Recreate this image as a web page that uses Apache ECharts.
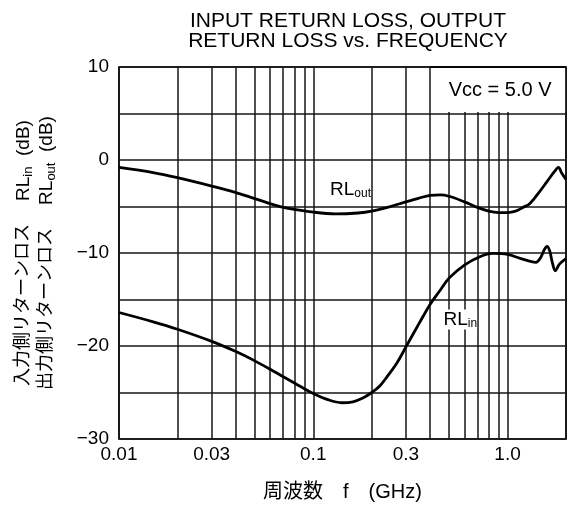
<!DOCTYPE html>
<html>
<head>
<meta charset="utf-8">
<script src="https://cdn.jsdelivr.net/npm/echarts@6/dist/echarts.min.js"></script>
<style>
html,body{margin:0;padding:0;background:#fff;}
#c{width:574px;height:510px;}
</style>
</head>
<body>
<div id="c"></div>
<script>
// ---- data ----
var freqOut = [0.01,0.015,0.02,0.03,0.04,0.05,0.07,0.1,0.13,0.17,0.2,0.25,0.3,0.35,0.4,0.45,0.5,0.6,0.7,0.8,0.9,1.0,1.1,1.2,1.3,1.45,1.6,1.75,1.83,1.9,2.0];
var rlOut   = [-0.8,-1.35,-1.9,-2.8,-3.5,-4.15,-5.1,-5.6,-5.8,-5.7,-5.5,-5.0,-4.5,-4.1,-3.8,-3.75,-3.9,-4.5,-5.1,-5.5,-5.65,-5.65,-5.5,-5.1,-4.7,-3.5,-2.3,-1.2,-0.8,-1.4,-2.1];
var freqIn  = [0.01,0.015,0.02,0.03,0.04,0.05,0.06,0.07,0.085,0.1,0.12,0.14,0.16,0.18,0.2,0.22,0.24,0.27,0.3,0.35,0.4,0.45,0.5,0.6,0.72,0.84,1.0,1.17,1.4,1.48,1.55,1.6,1.65,1.7,1.76,1.85,2.0];
var rlIn    = [-16.4,-17.4,-18.2,-19.5,-20.6,-21.6,-22.5,-23.3,-24.3,-25.1,-25.8,-26.1,-26.0,-25.6,-25.0,-24.3,-23.3,-21.8,-20.1,-17.6,-15.5,-14.0,-12.7,-11.3,-10.4,-10.05,-10.15,-10.6,-11.0,-10.5,-9.6,-9.3,-9.8,-11.0,-11.9,-11.2,-10.6];
var gridFreqs = [0.01,0.02,0.03,0.04,0.05,0.06,0.07,0.08,0.09,0.1,0.2,0.3,0.4,0.5,0.6,0.7,0.8,0.9,1.0,2.0];
var xTickVals = [0.01,0.03,0.1,0.3,1.0];
var xTickText = ['0.01','0.03','0.1','0.3','1.0'];
var yMin = -30, yMax = 10, yStep = 5, yLabelStep = 10;
var titleText = 'INPUT RETURN LOSS, OUTPUT\nRETURN LOSS vs. FREQUENCY';
var xName = '周波数　f　(GHz)';
var noteText = 'Vcc = 5.0 V';

function zip(a, b){ return a.map(function(v,i){ return [v, b[i]]; }); }

var FONT = "'Liberation Sans', Arial, 'Noto Sans CJK JP', sans-serif";
var chart = echarts.init(document.getElementById('c'), null, {renderer:'canvas'});

var option = {
  backgroundColor: '#fff',
  animation: false,
  textStyle: {fontFamily: FONT, color: '#000'},
  title: {
    text: titleText,
    left: 343, top: 6, textAlign: 'center',
    textStyle: {fontFamily: FONT, fontSize: 21, fontWeight: 'normal', color: '#000', lineHeight: 20}
  },
  grid: {left: 119, right: 8, top: 67, bottom: 71, show: true, borderColor: '#000', borderWidth: 1.7, backgroundColor: 'transparent'},
  xAxis: {
    type: 'log', logBase: 10, min: 0.01, max: 2,
    name: xName, nameLocation: 'middle', nameGap: 42,
    nameTextStyle: {fontFamily: FONT, fontSize: 20, color: '#000', lineHeight: 22},
    axisLine: {show: false},
    axisTick: {show: false, customValues: gridFreqs},
    axisLabel: {
      customValues: xTickVals, margin: 6, fontSize: 19, color: '#000', fontFamily: FONT,
      formatter: function(v){
        var best = 0, d = Infinity;
        for (var i=0;i<xTickVals.length;i++){ var dd = Math.abs(Math.log(v/xTickVals[i])); if (dd<d){d=dd;best=i;} }
        return xTickText[best];
      }
    },
    splitLine: {show: true, lineStyle: {color: '#161616', width: 1.5}}
  },
  yAxis: {
    type: 'value', min: yMin, max: yMax, interval: yStep,
    name: '{t|入力側リターンロス　 }{r|RL}{s|in}{r|  (dB)}\n{t|出力側リターンロス　 }{r|RL}{s|out}{r|  (dB)}',
    nameLocation: 'middle', nameRotate: 90, nameGap: 61,
    nameTextStyle: {
      fontFamily: FONT, color: '#000',
      rich: {
        t: {fontFamily: FONT, fontSize: 18, lineHeight: 23, color: '#000'},
        r: {fontFamily: FONT, fontSize: 19, lineHeight: 23, color: '#000'},
        s: {fontFamily: FONT, fontSize: 13, lineHeight: 14, color: '#000', verticalAlign: 'bottom'}
      }
    },
    axisLine: {show: false},
    axisTick: {show: false},
    axisLabel: {
      margin: 10, fontSize: 19, color: '#000', fontFamily: FONT,
      formatter: function(v){
        if (v % yLabelStep !== 0) return '';
        return v < 0 ? '\u2212' + (-v) : String(v);
      }
    },
    splitLine: {show: true, lineStyle: {color: '#161616', width: 1.5}}
  },
  series: [
    {name: 'RLout', type: 'line', data: zip(freqOut, rlOut), smooth: 0.35, symbol: 'none',
     lineStyle: {color: '#000', width: 2.8}, z: 5},
    {name: 'RLin', type: 'line', data: zip(freqIn, rlIn), smooth: 0.35, symbol: 'none',
     lineStyle: {color: '#000', width: 2.8}, z: 5}
  ]
};
chart.setOption(option);

function px(p){ return chart.convertToPixel({xAxisIndex:0, yAxisIndex:0}, p); }
var b1 = px([0.4, 10]), b2 = px([2, 5]);
var lo = px([0.122, -3.2]), li = px([0.468, -17.15]);
var richLbl = {
  a: {fontFamily: FONT, fontSize: 19, lineHeight: 20, fill: '#000'},
  b: {fontFamily: FONT, fontSize: 12, lineHeight: 12, fill: '#000', verticalAlign: 'bottom'}
};
chart.setOption({
  graphic: [
    {type: 'rect', z: 50, shape: {x: b1[0]+1.5, y: b1[1]+0.9, width: b2[0]-b1[0]-2.4, height: b2[1]-b1[1]-2.4}, style: {fill: '#fff'}},
    {type: 'line', z: 52, shape: {x1: b1[0], y1: b1[1], x2: b2[0], y2: b1[1]}, style: {stroke: '#000', lineWidth: 1.7}},
    {type: 'text', z: 51, x: (b1[0]+b2[0])/2 + 2, y: (b1[1]+b2[1])/2,
     style: {text: noteText, fontFamily: FONT, fontSize: 20, fill: '#000', align: 'center', verticalAlign: 'middle'}},
    {type: 'text', z: 51, x: lo[0], y: lo[1],
     style: {text: '{a|RL}{b|out}', rich: richLbl, align: 'left', verticalAlign: 'middle', backgroundColor: '#fff'}},
    {type: 'text', z: 51, x: li[0], y: li[1],
     style: {text: '{a|RL}{b|in}', rich: richLbl, align: 'left', verticalAlign: 'middle', backgroundColor: '#fff'}}
  ]
});
</script>
</body>
</html>
